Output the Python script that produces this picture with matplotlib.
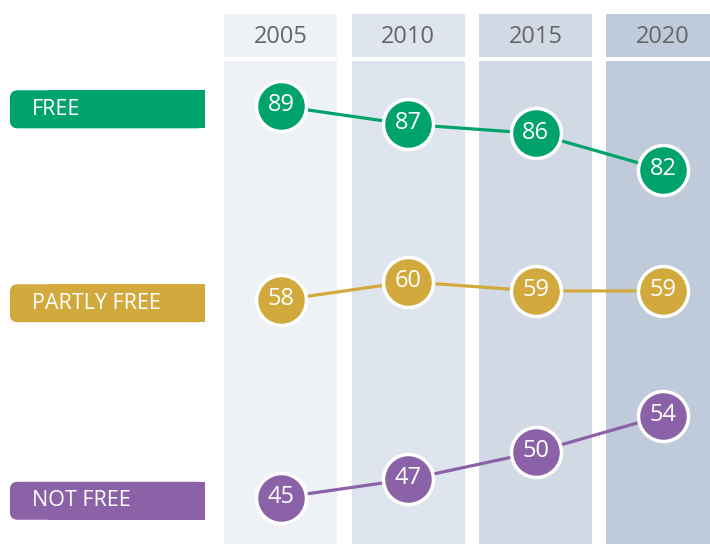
import matplotlib.pyplot as plt
from matplotlib.patches import FancyBboxPatch, Rectangle

years = ["2005", "2010", "2015", "2020"]
groups = ["FREE", "PARTLY FREE", "NOT FREE"]
free = [89, 87, 86, 82]
partly_free = [58, 60, 59, 59]
not_free = [45, 47, 50, 54]

colors = ["#00A36C", "#D2A93C", "#8B62A8"]
col_bg = ["#EEF1F6", "#DFE5EE", "#D1D9E4", "#BFCADA"]
# vertical shift of each band so the three series sit in their own rows
offsets = [0.0, 9.7, 1.0]

plt.rcParams['font.family'] = ['Open Sans', 'DejaVu Sans']

fig = plt.figure(figsize=(7.1, 5.44), dpi=100)
ax = fig.add_axes([0, 0, 1, 1])
ax.set_xlim(-2.207, 3.37)
ax.set_ylim(40.9, 100.66)
ax.axis('off')

xs = list(range(len(years)))
half = 0.444
for i, yr in enumerate(years):
    ax.axvspan(i - half, i + half, ymin=0, ymax=0.888, color=col_bg[i], lw=0, zorder=0)
    ax.axvspan(i - half, i + half, ymin=0.895, ymax=0.974, color=col_bg[i], lw=0, zorder=0)
    ax.text(i, 100.66 - 37 / 9.1, yr, ha='center', va='center',
            fontsize=17, color='#666666')

series = [free, partly_free, not_free]
for vals, name, c, off in zip(series, groups, colors, offsets):
    ys = [v + off for v in vals]
    ax.plot(xs, ys, color=c, lw=2.3, zorder=2)
    ax.plot(xs, ys, 'o', ms=36, mfc=c, mec='white', mew=2.5, zorder=3)
    for x, y, v in zip(xs, ys, vals):
        ax.text(x, y + 0.1, str(v), ha='center', va='center', color='white',
                fontsize=17, zorder=4)

    # label tag, rounded on the left only
    yc = ys[0] - 0.35
    h = 38 / 9.1
    x0, x1 = -2.129, -0.597
    tag = FancyBboxPatch((x0, yc - h / 2), x1 - x0, h,
                         boxstyle="round,pad=0,rounding_size=0.06",
                         mutation_aspect=14, fc=c, ec='none', zorder=1)
    ax.add_patch(tag)
    ax.add_patch(Rectangle((x0 + 0.3, yc - h / 2), x1 - x0 - 0.3, h,
                           fc=c, ec='none', zorder=1))
    ax.text(x0 + 0.17, yc, name, ha='left', va='center', color='white',
            fontsize=15.5)

fig.savefig("out.png", dpi=100)
